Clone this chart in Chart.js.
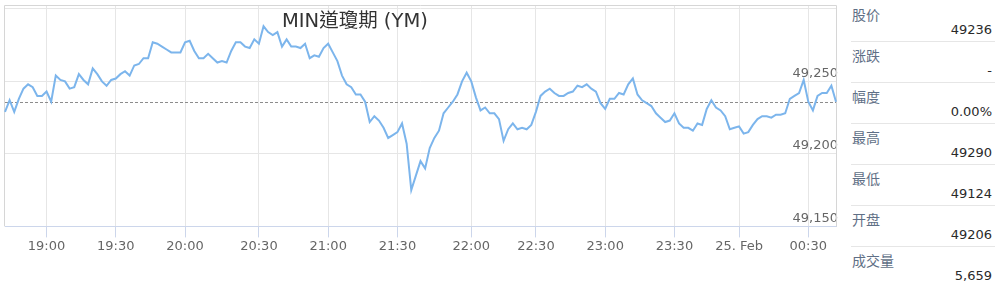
<!DOCTYPE html>
<html>
<head>
<meta charset="utf-8">
<script src="https://cdn.jsdelivr.net/npm/chart.js@4.4.0/dist/chart.umd.min.js"></script>
<style>
  body { margin: 0; background: #fff; width: 995px; height: 285px; overflow: hidden; position: relative; }
  #wrap { position: absolute; left: 0; top: 0; width: 845px; height: 285px; }
  #title { position: absolute; left: 282px; top: 4px; font: 19.5px "DejaVu Sans", "Noto Sans CJK TC", sans-serif; color: #333; white-space: nowrap; }
  #panel { position: absolute; left: 851px; top: 1px; width: 144px; }
  .row { position: relative; height: 41px; box-sizing: border-box; border-bottom: 1px solid #e6e6e6; }
  .row:last-child { border-bottom: none; }
  .lbl { position: absolute; left: 1px; top: 5px; font: 14px "Noto Sans CJK SC", sans-serif; color: #5f6f86; line-height: 16px; }
  .val { position: absolute; right: 3px; top: 21px; font: 13px "DejaVu Sans", sans-serif; color: #2a2a2a; line-height: 16px; }
</style>
</head>
<body>
<div id="wrap"><canvas id="chart"></canvas></div>
<div id="title">MIN道瓊期 (YM)</div>
<div id="panel"></div>
<script>
// du lieu
const times = [
  '18:42','18:44','18:46','18:48','18:50','18:52','18:54','18:56','18:58',
  '19:00','19:02','19:04','19:06','19:08','19:10','19:12','19:14','19:16','19:18','19:20','19:22','19:24','19:26','19:28',
  '19:30','19:32','19:34','19:36','19:38','19:40','19:42','19:44','19:46','19:48','19:50','19:52','19:54','19:56','19:58',
  '20:00','20:02','20:04','20:06','20:08','20:10','20:12','20:14','20:15','20:16','20:18','20:20','20:22','20:24','20:26','20:28',
  '20:30','20:32','20:34','20:36','20:38','20:40','20:42','20:44','20:46','20:48','20:50','20:52','20:54','20:56','20:58',
  '21:00','21:02','21:04','21:06','21:08','21:10','21:12','21:14','21:16','21:18','21:20','21:22','21:24','21:26','21:28',
  '21:30','21:32','21:34','21:36','21:38','21:40','21:42','21:44','21:45','21:46','21:48','21:50','21:52','21:54','21:56','21:58',
  '22:00','22:02','22:04','22:06','22:08','22:10','22:12','22:15','22:18','22:20','22:22','22:24','22:26','22:28',
  '22:30','22:32','22:34','22:36','22:38','22:40','22:42','22:44','22:46','22:48','22:50','22:52','22:54','22:56','22:58',
  '23:00','23:02','23:04','23:06','23:08','23:10','23:12','23:14','23:16','23:18','23:20','23:22','23:24','23:26','23:28',
  '23:30','23:32','23:34','23:36','23:38','23:40','23:42','23:45','23:48','23:50','23:52','23:54','23:56','23:58',
  '00:00','00:02','00:04','00:06','00:08','00:10','00:12','00:14','00:16','00:18','00:20','00:22','00:24','00:26','00:28',
  '00:30','00:32','00:34','00:36','00:38','00:40','00:42'
]
const prices = [
  49229,49237,49229,49238,49245,49248,49246,49240,49240,
  49243,49236,49254,49251,49250,49245,49246,49255,49251,49248,49259,49255,49250,49247,49251,
  49252,49255,49257,49254,49261,49262,49266,49266,49277,49276,49274,49272,49270,49270,49270,
  49277,49278,49271,49266,49266,49269,49266,49263,49264,49263,49271,49277,49277,49274,49273,49279,
  49276,49288,49284,49282,49284,49274,49279,49274,49274,49273,49276,49266,49268,49267,49273,
  49276,49270,49264,49254,49248,49246,49241,49241,49236,49222,49226,49223,49218,49211,49213,
  49215,49221,49207,49175,49185,49195,49190,49204,49211,49216,49228,49232,49236,49241,49250,49256,
  49250,49239,49230,49232,49228,49228,49224,49209,49217,49221,49217,49218,49217,49220,
  49229,49240,49243,49245,49242,49240,49240,49242,49243,49247,49246,49248,49245,49243,49235,
  49231,49238,49238,49242,49241,49248,49252,49241,49237,49235,49233,49228,49225,49222,49223,
  49228,49221,49218,49218,49216,49221,49220,49231,49237,49232,49230,49226,49217,49218,
  49219,49214,49215,49220,49224,49226,49226,49225,49227,49227,49228,49238,49240,49242,49251,
  49236,49230,49240,49242,49242,49247,49236
]
const tickTimes = ['19:00','19:30','20:00','20:30','21:00','21:30','22:00','22:30','23:00','23:30','00:00','00:30']
const yTicks = [49150, 49200, 49250, 49300]
const prevClose = 49236

// bang ben phai
const panelLabels = ['股价','涨跌','幅度','最高','最低','开盘','成交量']
const panelValues = ['49236','-','0.00%','49290','49124','49206','5,659']

for (let i in panelLabels) {
  document.getElementById("panel").innerHTML += `<div class="row">
    <div class="lbl">${panelLabels[i]}</div>
    <div class="val">${panelValues[i]}</div>
  </div>`
}

// khung + duong gia dong cua
const extraLines = {
  id: 'extraLines',
  beforeDatasetsDraw(chart) {
    const ctx = chart.ctx
    const a = chart.chartArea
    ctx.save()
    ctx.strokeStyle = '#d6d6d6'
    ctx.lineWidth = 1
    ctx.beginPath()
    ctx.moveTo(a.left - 0.5, a.bottom)
    ctx.lineTo(a.left - 0.5, a.top - 0.5)
    ctx.lineTo(a.right + 0.5, a.top - 0.5)
    ctx.lineTo(a.right + 0.5, a.bottom)
    ctx.stroke()
    const py = Math.round(chart.scales.y.getPixelForValue(prevClose)) + 0.5
    ctx.setLineDash([3, 2])
    ctx.strokeStyle = '#8c8c8c'
    ctx.beginPath()
    ctx.moveTo(a.left, py)
    ctx.lineTo(a.right, py)
    ctx.stroke()
    ctx.restore()
  }
}

const font13 = { family: 'DejaVu Sans', size: 13 }

var ctx1 = document.getElementById("chart").getContext("2d")
var myChart = new Chart(ctx1, {
  type: 'line',
  data: {
    labels: times,
    datasets: [{
      data: prices,
      borderColor: '#7cb5ec',
      borderWidth: 2,
      pointRadius: 0,
      tension: 0,
      fill: false
    }]
  },
  options: {
    responsive: true,
    maintainAspectRatio: false,
    animation: false,
    layout: { padding: { left: 5, right: 5, top: 6, bottom: 30 } },
    plugins: { legend: { display: false }, tooltip: { enabled: false } },
    scales: {
      x: {
        afterBuildTicks: (scale) => {
          scale.ticks = scale.ticks.filter(t => tickTimes.includes(times[t.value]))
        },
        grid: { color: '#e6e6e6', tickColor: '#ccd6eb', tickLength: 11 },
        border: { color: '#ccd6eb' },
        ticks: {
          autoSkip: false, maxRotation: 0, padding: 1, color: '#666', font: font13,
          callback: function (value) {
            const t = this.getLabelForValue(value)
            return t === '00:00' ? '25. Feb' : t
          }
        }
      },
      y: {
        position: 'right',
        min: 49150,
        max: 49302,
        afterBuildTicks: (scale) => {
          scale.ticks = yTicks.map(v => ({ value: v }))
        },
        // nhan nam trong khung, khong can chua cho
        afterFit: (scale) => {
          scale.paddingTop = 0
          scale.paddingBottom = 0
        },
        grid: { color: '#e6e6e6', drawTicks: false },
        border: { display: false },
        ticks: {
          mirror: true, padding: 2, labelOffset: -8, color: '#666', font: font13,
          callback: (v) => v === 49300 ? '' : v.toLocaleString('en-US')
        }
      }
    }
  },
  plugins: [extraLines]
})
</script>
</body>
</html>
